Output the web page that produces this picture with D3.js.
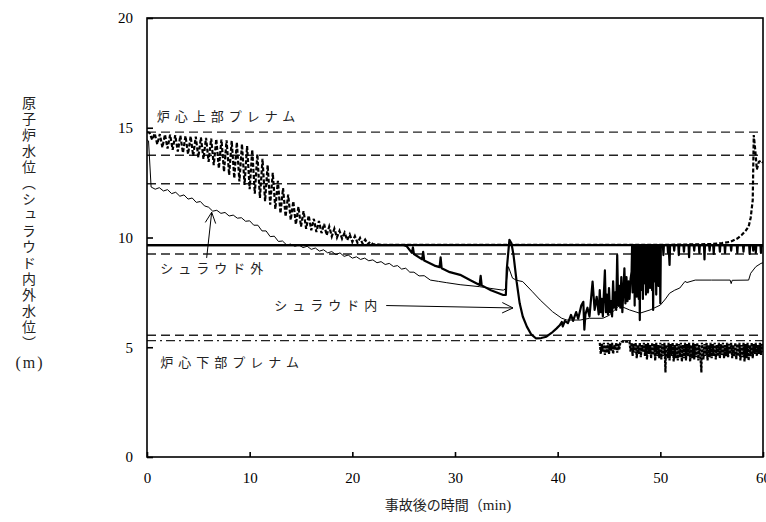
<!DOCTYPE html>
<html><head><meta charset="utf-8">
<script src="https://cdn.jsdelivr.net/npm/d3@7"></script>
<style>body{margin:0;background:#fff} svg{display:block}</style>
</head><body>
<svg id="c" width="766" height="522"></svg>
<script>
// ---- data ----
const xTicks = [0, 10, 20, 30, 40, 50, 60];
const yTicks = [0, 5, 10, 15, 20];
const dashedLevels = [14.8, 13.75, 12.45, 9.25, 5.55];
const solidLevels = [9.65];
const dashDotLevels = [5.3];

// heavy dashed oscillating level
const upperSeries = [[0,14.8],[0.25,14.77],[0.5,14.45],[0.75,14.74],[1.0,14.25],[1.25,14.71],[1.5,14.1],[1.75,14.69],[2.0,14.05],[2.25,14.68],[2.5,14.0],[2.75,14.66],[3.0,13.92],[3.25,14.64],[3.5,13.86],[3.75,14.62],[4.0,13.8],[4.25,14.61],[4.5,13.72],[4.75,14.59],[5.0,13.65],[5.25,14.56],[5.5,13.58],[5.75,14.54],[6.0,13.45],[6.25,14.51],[6.5,13.3],[6.75,14.48],[7.0,13.15],[7.25,14.46],[7.5,13.0],[7.75,14.43],[8.0,12.85],[8.25,14.4],[8.5,12.7],[8.75,14.34],[9.0,12.55],[9.25,14.26],[9.5,12.4],[9.75,14.16],[10.0,12.2],[10.25,14.0],[10.5,12.0],[10.75,13.8],[11.0,11.8],[11.25,13.58],[11.5,11.65],[11.75,13.3],[12.0,11.5],[12.25,12.95],[12.5,11.3],[12.75,12.58],[13.0,11.1],[13.25,12.25],[13.5,10.95],[13.75,11.95],[14.0,10.8],[14.25,11.65],[14.5,10.6],[14.75,11.4],[15.0,10.5],[15.25,11.2],[15.5,10.4],[15.75,11.0],[16.0,10.33],[16.25,10.85],[16.5,10.25],[16.75,10.75],[17.0,10.2],[17.25,10.62],[17.5,10.1],[17.75,10.5],[18.0,10.05],[18.25,10.4],[18.5,10.0],[18.75,10.3],[19.0,9.95],[19.25,10.22],[19.5,9.88],[19.75,10.14],[20.0,9.8],[20.25,10.06],[20.5,9.76],[20.75,9.98],[21.0,9.72],[21.25,9.9],[21.5,9.7],[21.75,9.8],[22.0,9.7],[23,9.66],[30,9.66],[40,9.66],[50,9.66],[55,9.7],[56,9.75],[56.8,9.8],[57.5,9.95],[57.9,10.1],[58.3,10.3],[58.6,10.5],[58.8,10.9],[59.0,11.7],[59.05,13.2],[59.1,14.67],[59.2,14.2],[59.3,13.68],[59.4,13.1],[59.6,13.45],[59.8,13.5],[60,13.4]];

// シュラウド外 (thin)
const outsideSeries = [[0,14.45],[0.15,14.4],[0.4,12.3],[0.8,12.2],[1.2,12.27],[1.6,12.12],[2.0,12.18],[2.4,12.0],[2.8,12.06],[3.2,11.88],[3.6,11.94],[4.0,11.75],[4.4,11.8],[4.8,11.6],[5.2,11.64],[5.6,11.44],[6.0,11.38],[6.4,11.2],[6.8,11.24],[7.2,11.1],[7.6,11.14],[8.0,10.98],[8.4,11.02],[8.8,10.88],[9.2,10.9],[9.6,10.74],[10.0,10.76],[10.4,10.56],[10.8,10.56],[11.2,10.3],[11.6,10.3],[12.0,10.04],[12.4,10.06],[12.8,9.82],[13.2,9.84],[13.6,9.66],[14.0,9.7],[14.4,9.6],[14.8,9.66],[15.2,9.54],[15.6,9.6],[16.0,9.46],[16.4,9.52],[16.8,9.38],[17.2,9.44],[17.6,9.3],[18.0,9.36],[18.4,9.22],[18.8,9.3],[19.2,9.14],[19.6,9.2],[20.0,9.06],[20.4,9.12],[20.8,9.0],[21.2,9.06],[21.6,8.94],[22.0,8.98],[22.4,8.85],[22.8,8.9],[23.2,8.77],[23.6,8.82],[24.0,8.68],[24.4,8.72],[24.8,8.56],[25.2,8.6],[25.6,8.42],[26.0,8.42],[26.5,8.25],[27.0,8.26],[27.6,8.06],[28.4,8.0],[29.2,7.94],[30.5,7.85],[32.4,7.76],[33.5,7.68],[34.7,7.6],[34.9,7.65],[35.2,8.67],[35.6,8.15],[36.0,8.05],[36.6,7.99],[37.5,7.55],[38.3,7.15],[39.5,6.62],[40.4,6.32],[40.9,6.24],[42.2,6.24],[43.1,6.32],[44.4,6.32],[45.0,6.45],[46.0,6.9],[47.0,6.7],[48.0,6.55],[49.0,6.7],[50.0,6.92],[50.5,7.2],[50.9,7.46],[51.4,7.6],[51.9,7.7],[52.4,8.0],[52.6,7.95],[53.4,8.06],[55.0,8.06],[56.8,8.06],[56.9,7.9],[57.0,8.05],[58.6,8.06],[58.8,8.37],[59.3,8.67],[59.8,8.82],[60,8.85]];

// シュラウド内 (thick)
const insideSeries = [[0,9.65],[25,9.65],[25.3,9.6],[25.8,9.3],[25.9,9.55],[26.0,9.25],[26.8,9.0],[26.9,9.35],[27.0,8.95],[28.0,8.72],[28.5,8.65],[28.6,9.1],[28.7,8.6],[29.5,8.42],[30.5,8.3],[31.5,8.05],[32.4,7.84],[32.5,8.25],[32.6,7.82],[33.5,7.6],[34.7,7.38],[34.95,7.38],[35.05,8.6],[35.3,9.89],[35.5,9.73],[35.7,9.2],[36.0,8.0],[36.3,7.0],[36.6,6.4],[37.0,5.94],[37.4,5.6],[37.9,5.4],[38.4,5.42],[38.9,5.48],[39.4,5.65],[39.9,5.86],[40.2,6.0],[40.4,6.15],[40.5,5.95],[40.7,6.2],[41.0,6.1],[41.3,6.47],[41.5,6.2],[41.8,6.6],[42.0,6.3],[42.3,6.9],[42.5,7.07],[42.6,5.8],[42.7,6.5],[42.9,6.8],[43.1,6.4],[43.4,7.99],[43.6,6.7],[43.8,7.3],[44.0,6.5],[44.1,7.6],[44.2,6.6],[44.3,7.2],[44.4,6.4],[44.6,8.5],[44.7,6.6],[44.8,7.4],[44.9,6.5],[45.0,7.7],[45.1,6.6],[45.2,7.1],[45.3,6.4],[45.4,8.0],[45.5,6.8],[45.6,7.5],[45.7,6.7],[45.8,9.2],[45.9,6.9],[46.0,7.8],[46.1,6.8],[46.2,8.2],[46.3,6.6],[46.4,7.6],[46.5,8.6],[46.6,7.0],[46.7,8.2],[46.8,7.1],[46.9,8.0],[47.0,7.2],[47.1,8.1],[47.2,8.44],[47.25,9.65],[47.3,7.5],[47.35,9.6],[47.4,8.2],[47.45,9.65],[47.5,6.9],[47.55,9.6],[47.6,7.8],[47.65,9.65],[47.7,7.3],[47.75,9.6],[47.8,8.0],[47.85,9.65],[47.9,7.2],[47.95,9.6],[48.0,6.24],[48.05,9.65],[48.1,7.6],[48.15,9.6],[48.2,8.0],[48.25,9.65],[48.3,7.2],[48.35,9.6],[48.4,7.9],[48.45,9.65],[48.5,8.2],[48.55,9.6],[48.6,7.4],[48.65,9.65],[48.7,8.1],[48.75,9.6],[48.8,7.5],[48.85,9.65],[48.9,8.3],[48.95,9.6],[49.0,7.7],[49.05,9.65],[49.1,8.0],[49.15,9.6],[49.2,7.6],[49.25,9.65],[49.3,6.7],[49.35,9.6],[49.4,8.2],[49.45,9.65],[49.5,8.0],[49.55,9.6],[49.6,7.4],[49.65,9.65],[49.7,8.3],[49.75,9.6],[49.8,7.8],[49.85,9.65],[49.9,8.4],[49.95,9.6],[50.0,7.0],[50.05,9.6],[50.25,9.65],[50.3,9.2],[50.35,9.65],[50.7,9.65],[50.75,9.3],[50.8,9.65],[50.9,8.75],[50.95,9.65],[51.3,9.65],[51.35,9.4],[51.4,9.65],[51.75,9.65],[51.8,9.2],[51.85,9.65],[52.25,9.65],[52.3,9.35],[52.35,9.65],[52.75,9.65],[52.8,9.1],[52.85,9.65],[53.25,9.65],[53.3,9.4],[53.35,9.65],[53.75,9.65],[53.8,9.3],[53.85,9.65],[54.25,9.65],[54.3,9.0],[54.35,9.65],[54.75,9.65],[54.8,9.4],[54.85,9.65],[55.15,9.65],[55.2,9.25],[55.25,9.65],[55.75,9.65],[55.8,9.35],[55.85,9.65],[56.25,9.65],[56.3,9.3],[56.35,9.65],[56.85,9.65],[56.9,9.4],[56.95,9.65],[57.45,9.65],[57.5,9.3],[57.55,9.65],[58.05,9.65],[58.1,9.35],[58.15,9.65],[58.65,9.65],[58.7,9.25],[58.75,9.65],[59.0,9.65],[59.05,9.4],[59.1,9.65],[59.25,9.65],[59.3,9.3],[59.35,9.65],[59.75,9.65],[59.8,9.3],[59.85,9.65],[60,9.6]];

// lower noisy level
const lowerSeries = [[44.1,5.2],[44.2,4.7],[44.3,5.15],[44.4,4.8],[44.5,5.2],[44.6,4.65],[44.7,5.1],[44.8,4.75],[44.9,5.2],[45.0,4.7],[45.1,5.15],[45.2,4.85],[45.3,5.2],[45.4,4.7],[45.5,5.1],[45.6,4.9],[45.7,5.2],[45.8,4.75],[45.9,5.15],[46.0,4.9],[46.1,5.2],[46.2,5.25],[47.0,5.25],[47.1,4.8],[47.2,5.2],[47.3,4.6],[47.4,5.15],[47.5,4.75],[47.6,5.2],[47.7,4.5],[47.8,5.1],[47.9,4.7],[48.0,5.2],[48.1,4.55],[48.2,5.1],[48.3,4.8],[48.4,5.2],[48.5,4.6],[48.6,5.15],[48.7,4.45],[48.8,5.2],[48.9,4.7],[49.0,5.1],[49.1,4.5],[49.2,5.2],[49.3,4.65],[49.4,5.15],[49.5,4.4],[49.6,5.2],[49.7,4.6],[49.8,5.1],[49.9,4.5],[50.0,5.2],[50.1,4.45],[50.2,5.15],[50.3,4.6],[50.4,5.2],[50.5,3.85],[50.55,5.1],[50.7,4.5],[50.8,5.2],[50.9,4.4],[51.0,5.15],[51.1,4.6],[51.2,5.2],[51.3,4.35],[51.4,5.1],[51.5,4.5],[51.6,5.2],[51.7,4.4],[51.8,5.15],[51.9,4.55],[52.0,5.2],[52.1,4.35],[52.2,5.1],[52.3,4.5],[52.4,5.2],[52.5,4.4],[52.6,5.15],[52.7,4.6],[52.8,5.2],[52.9,4.35],[53.0,5.1],[53.1,4.5],[53.2,5.2],[53.3,4.45],[53.4,5.15],[53.5,4.55],[53.6,5.2],[53.7,4.4],[53.8,5.1],[53.9,4.6],[54.0,3.85],[54.05,5.2],[54.2,4.45],[54.3,5.15],[54.4,4.6],[54.5,5.2],[54.6,4.4],[54.7,5.1],[54.8,4.55],[54.9,5.2],[55.0,4.5],[55.1,5.15],[55.2,4.6],[55.3,5.2],[55.4,4.45],[55.5,5.1],[55.6,4.6],[55.7,5.2],[55.8,4.5],[55.9,5.15],[56.0,4.65],[56.1,5.2],[56.2,4.5],[56.3,5.1],[56.4,4.6],[56.5,5.2],[56.6,4.55],[56.7,5.15],[56.8,4.7],[56.9,5.2],[57.0,4.5],[57.1,5.1],[57.2,4.6],[57.3,5.2],[57.4,4.45],[57.5,5.15],[57.6,4.6],[57.7,5.2],[57.8,4.4],[57.9,5.1],[58.0,4.55],[58.1,5.2],[58.2,4.35],[58.3,5.15],[58.4,4.5],[58.5,5.2],[58.6,4.4],[58.7,5.1],[58.8,4.6],[58.9,5.2],[59.0,4.5],[59.1,5.15],[59.2,4.7],[59.3,5.2],[59.4,4.6],[59.5,5.1],[59.6,4.7],[59.7,5.2],[59.8,4.65],[59.9,5.15],[60,4.8]];

// annotation texts and positions (data units)
const labels = [
  {text: "炉心上部プレナム", t: 0.95, v: 15.3},
  {text: "シュラウド外", t: 1.3, v: 8.4},
  {text: "炉心下部プレナム", t: 1.3, v: 4.1},
  {text: "シュラウド内", t: 12.4, v: 6.7}
];
const arrows = [
  {from: [5.81, 9.07], to: [6.30, 11.15]},
  {from: [23.3, 6.9], to: [35.65, 6.79]}
];

// ---- chart ----
const svg = d3.select("#c");
const x = d3.scaleLinear().domain([0, 60]).range([147, 763]);
const y = d3.scaleLinear().domain([0, 20]).range([457, 18]);
const serif = "'Liberation Serif','DejaVu Serif',serif";
const cjk = "'Noto Sans CJK JP','Noto Sans CJK SC',sans-serif";

svg.append("defs").append("clipPath").attr("id","clip")
  .append("rect").attr("x",147).attr("y",18).attr("width",616).attr("height",439);
const plot = svg.append("g").attr("clip-path","url(#clip)");

plot.selectAll(".dl").data(dashedLevels).join("line")
  .attr("x1", x(0)).attr("x2", x(60)).attr("y1", d=>y(d)).attr("y2", d=>y(d))
  .attr("stroke","#222").attr("stroke-width",1.4).attr("stroke-dasharray","9,5");
plot.selectAll(".sl").data(solidLevels).join("line")
  .attr("x1", x(0)).attr("x2", x(60)).attr("y1", d=>y(d)).attr("y2", d=>y(d))
  .attr("stroke","#000").attr("stroke-width",2.2);
plot.selectAll(".ddl").data(dashDotLevels).join("line")
  .attr("x1", x(0)).attr("x2", x(60)).attr("y1", d=>y(d)).attr("y2", d=>y(d))
  .attr("stroke","#222").attr("stroke-width",1.4).attr("stroke-dasharray","9,4,2,4");

const line = d3.line().x(d=>x(d[0])).y(d=>y(d[1]));
plot.append("path").datum(outsideSeries).attr("d",line)
  .attr("fill","none").attr("stroke","#000").attr("stroke-width",1);
plot.append("path").datum(upperSeries).attr("d",line)
  .attr("fill","none").attr("stroke","#000").attr("stroke-width",2.2).attr("stroke-dasharray","4,2");
plot.append("path").datum(insideSeries).attr("d",line)
  .attr("fill","none").attr("stroke","#000").attr("stroke-width",2.2).attr("stroke-linejoin","round");
plot.append("path").datum(lowerSeries).attr("d",line)
  .attr("fill","none").attr("stroke","#000").attr("stroke-width",2.2).attr("stroke-dasharray","3,1");

// frame
svg.append("rect").attr("x",147).attr("y",18).attr("width",616).attr("height",439)
  .attr("fill","none").attr("stroke","#000").attr("stroke-width",1.6);

// axes
const ya = svg.append("g").attr("transform","translate(147,0)")
  .call(d3.axisLeft(y).tickValues(yTicks).tickSize(-6).tickPadding(14).tickFormat(d3.format("d")));
const xa = svg.append("g").attr("transform","translate(0,457)")
  .call(d3.axisBottom(x).tickValues(xTicks).tickSize(-5).tickPadding(15).tickFormat(d3.format("d")));
[ya, xa].forEach(a => {
  a.select(".domain").remove();
  a.selectAll(".tick line").attr("stroke","#000").attr("stroke-width",1.6);
  a.selectAll("text").attr("font-family", serif).attr("font-size",15).attr("fill","#000");
});

// annotation labels
svg.selectAll(".lab").data(labels).join("text")
  .attr("x", d=>x(d.t)).attr("y", d=>y(d.v))
  .attr("font-family", cjk).attr("font-size",13).attr("letter-spacing",5)
  .attr("fill","#222").text(d=>d.text);

// arrows
arrows.forEach(a => {
  const x1 = x(a.from[0]), y1 = y(a.from[1]), x2 = x(a.to[0]), y2 = y(a.to[1]);
  const ang = Math.atan2(y2-y1, x2-x1), L = 12, w = 0.45;
  svg.append("line").attr("x1",x1).attr("y1",y1).attr("x2",x2).attr("y2",y2)
    .attr("stroke","#000").attr("stroke-width",1);
  svg.append("path")
    .attr("d", `M${x2-L*Math.cos(ang-w)},${y2-L*Math.sin(ang-w)}L${x2},${y2}L${x2-L*Math.cos(ang+w)},${y2-L*Math.sin(ang+w)}`)
    .attr("fill","none").attr("stroke","#000").attr("stroke-width",1);
});

// axis titles
svg.append("text").attr("x",29).attr("y",96)
  .attr("font-family", cjk).attr("font-size",14).attr("letter-spacing",2.0)
  .style("writing-mode","vertical-rl").attr("fill","#222")
  .text("原子炉水位（シュラウド内外水位）");
svg.append("text").attr("x",30).attr("y",368).attr("text-anchor","middle")
  .attr("font-family", serif).attr("font-size",16).attr("letter-spacing",2).attr("fill","#222").text("(m)");
const xt = svg.append("text").attr("x",448).attr("y",510).attr("text-anchor","middle")
  .attr("font-family", cjk).attr("font-size",14).attr("fill","#222");
xt.append("tspan").text("事故後の時間（");
xt.append("tspan").attr("font-family", serif).attr("font-size",15).text("min)");
</script>
</body></html>
